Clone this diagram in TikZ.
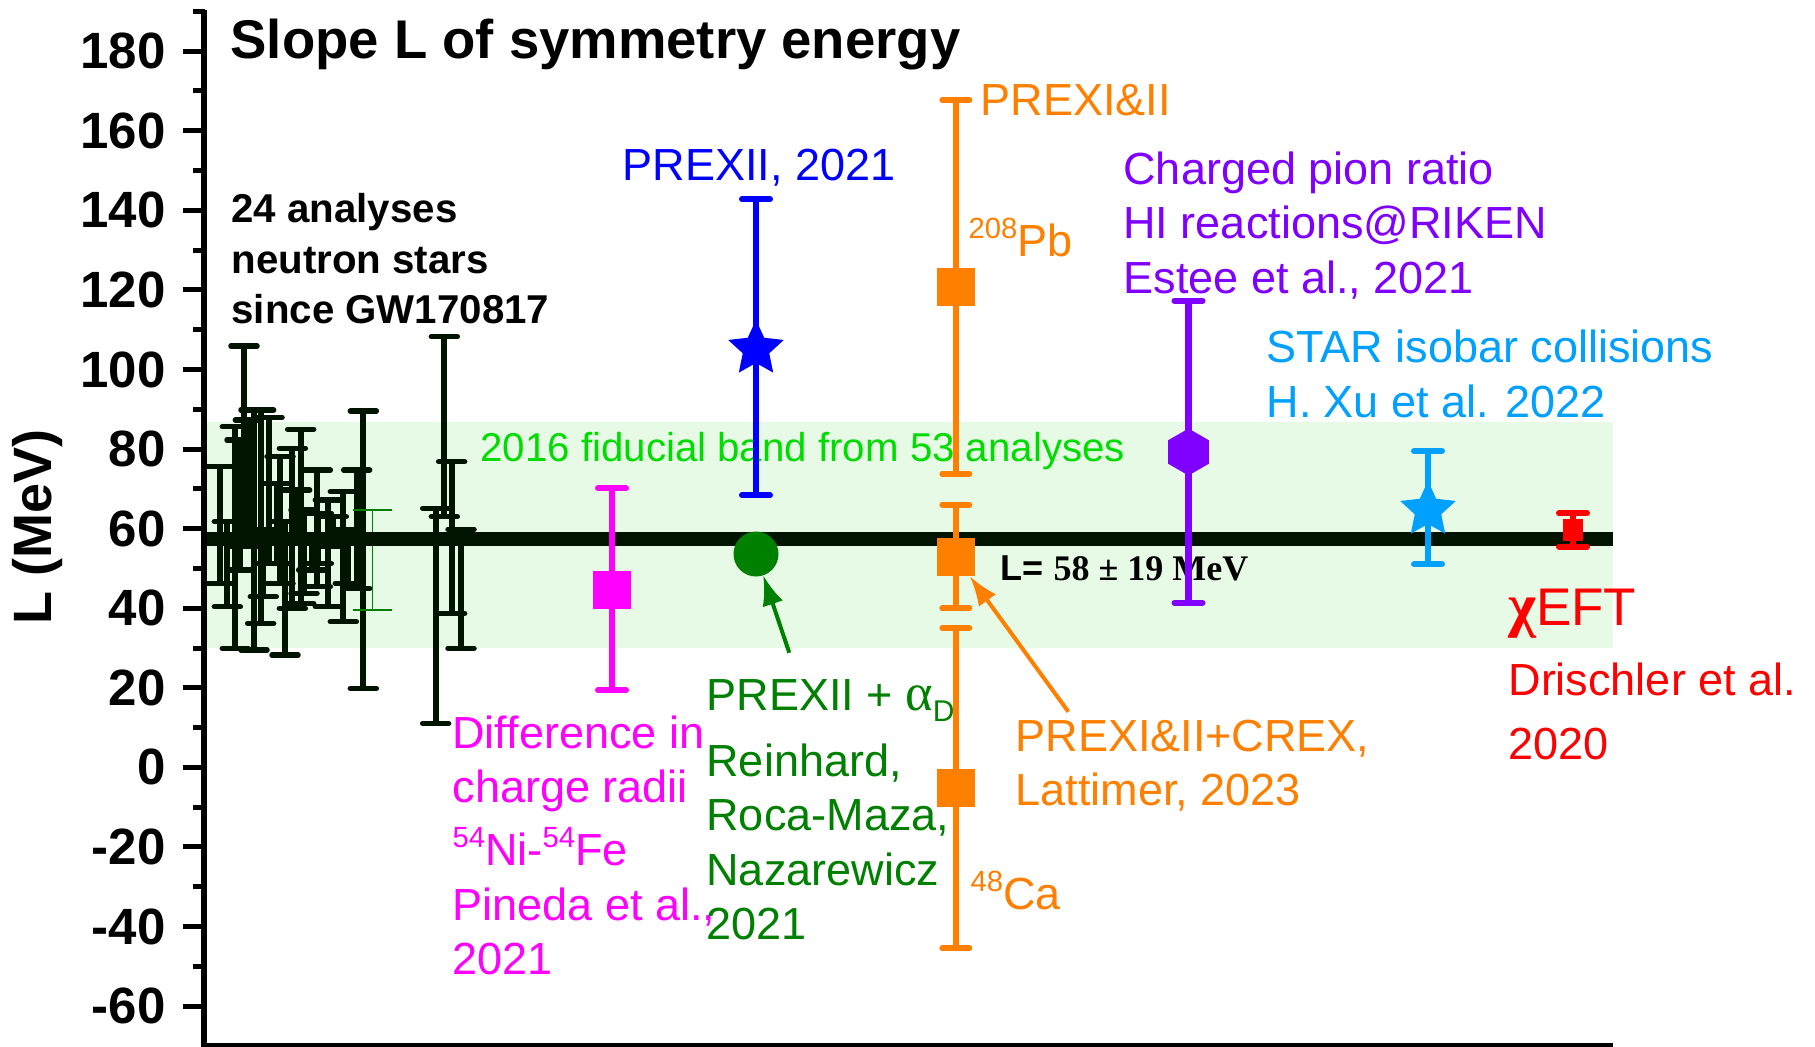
\documentclass[tikz,border=0pt]{standalone}
\usepackage{fontspec}
\setmainfont{Liberation Sans}
\newfontfamily\sergr{Liberation Serif}
\usetikzlibrary{shapes.geometric,arrows.meta}
\definecolor{band}{RGB}{230,250,230}
\definecolor{dk}{RGB}{0,20,0}
\definecolor{cblue}{RGB}{0,0,255}
\definecolor{corange}{RGB}{255,128,0}
\definecolor{cpurple}{RGB}{128,0,255}
\definecolor{ccyan}{RGB}{0,160,255}
\definecolor{cmag}{RGB}{255,0,255}
\definecolor{cgreen}{RGB}{0,128,0}
\definecolor{cfid}{RGB}{0,220,0}
\definecolor{cred}{RGB}{255,0,0}
\newcommand\Ly[1]{767.4-3.979*(#1)}
\newcommand\myebar[5]{% color, x, lo, hi, halfcap
  \draw[#1, line width=2.5pt] (#2,{\Ly{#3}}) -- (#2,{\Ly{#4}});
  \draw[#1, line width=2.4pt, line cap=round] ({#2-#5},{\Ly{#3}}) -- ({#2+#5},{\Ly{#3}}) ({#2-#5},{\Ly{#4}}) -- ({#2+#5},{\Ly{#4}});
}
\newcommand\sups[1]{\raisebox{6.9pt}{\fontsize{11.7pt}{12pt}\selectfont #1}}
\begin{document}
\begin{tikzpicture}[x=0.4pt,y=-0.4pt,
  lab/.style={anchor=base west, inner sep=0pt, font=\fontsize{18pt}{22pt}\selectfont},
  blab/.style={anchor=base west, inner sep=0pt, font=\fontsize{16.1pt}{20pt}\selectfont\bfseries},
  ticklab/.style={anchor=east, inner sep=0pt, font=\fontsize{20.4pt}{24pt}\selectfont\bfseries},
  mk/.style={inner sep=0pt, outer sep=0pt, draw=none}]
\useasboundingbox (0,0) rectangle (1815,1047);
\fill[white] (0,0) rectangle (1815,1047);
% fiducial band
\fill[band] (204,{\Ly{86.7}}) rectangle (1613,{\Ly{30}});
\node[lab, text=cfid, font=\fontsize{16.1pt}{20pt}\selectfont] (fid) at (480,461) {2016 fiducial band from 53 analyses};
% neutron star cluster
\foreach \a/\b/\c in {120/410/760, 142/575/830, 166/290/955, 192/48/650, 222/240/960, 242/240/880, 267/262/700, 290/460/700, 315/575/975, 337/355/835, 362/298/820, 372/540/790, 412/420/770, 415/550/700, 490/485/875, 530/420/775, 550/243/1075, 460/560/650, 767/535/1180, 793/20/560, 815/395/850, 843/598/955, 250/600/800, 395/620/720, 180/330/720, 205/270/620, 300/380/760, 350/480/640, 445/510/830, 505/600/760}{
  \draw[dk, line width=2.3pt] ({180+\a/3},{330+\b/3}) -- ({180+\a/3},{330+\c/3});
  \draw[dk, line width=2.2pt, line cap=round] ({180+\a/3-13},{330+\b/3}) -- ++(26,0) ({180+\a/3-13},{330+\c/3}) -- ++(26,0);
}
\draw[cgreen, line width=0.6pt] (372.3,510) -- (372.3,610) (353.3,510) -- (391.7,510) (353.3,610) -- (391.7,610);
% central line
\draw[dk, line width=5.6pt] (204,539) -- (1613,539);
% axes
\draw[black, line width=2.6pt] (204,10) -- (204,1047);
\draw[black, line width=2pt] (201,1045) -- (1613,1045);
\foreach \v in {-60,-40,...,180}{
  \draw[black, line width=2pt] (183,{\Ly{\v}}) -- (205,{\Ly{\v}});
  \node[ticklab] (tl\v) at (166,{\Ly{\v}}) {\v};
}
\foreach \v in {-50,-30,...,190}{
  \draw[black, line width=2pt] (193,{\Ly{\v}}) -- (205,{\Ly{\v}});
}
\node[rotate=90, inner sep=0pt, font=\fontsize{21.6pt}{24pt}\selectfont\bfseries] (ylab) at (38,527) {L (MeV)};
% title and black annotation
\node[anchor=base west, inner sep=0pt, font=\fontsize{21.8pt}{26pt}\selectfont\bfseries] (title) at (230,58) {Slope L of symmetry energy};
\node[blab] (ns1) at (231,222) {24 analyses};
\node[blab] (ns2) at (231,273) {neutron stars};
\node[blab] (ns3) at (231,323) {since GW170817};
% L = 58 label
\node[anchor=base west, inner sep=0pt, font=\fontsize{14.4pt}{18pt}\selectfont] (lval) at (1000,580) {\textbf{L=} {\sergr\bfseries 58 ± 19 MeV}};
% magenta
\myebar{cmag}{612}{19.4}{70.1}{14}
\node[mk, rectangle, fill=cmag, minimum size=15.4pt] (mag) at (612,590) {};
\node[lab, text=cmag] (m1) at (452,748) {Difference in};
\node[lab, text=cmag] (m2) at (452,802) {charge radii};
\node[lab, text=cmag] (m3) at (452,865) {\sups{54}Ni-\sups{54}Fe};
\node[lab, text=cmag] (m4) at (452,920) {Pineda et al.,};
\node[lab, text=cmag] (m5) at (452,974) {2021};
% blue
\myebar{cblue}{756}{68.4}{142.8}{14}
\node[mk, star, star points=5, star point ratio=2.1, fill=cblue, minimum size=23.4pt] (bstar) at (756,349) {};
\node[lab, text=cblue] (b1) at (622,180) {PREXII, 2021};
% green
\node[mk, circle, fill=cgreen, minimum size=18pt] (gc) at (756,554) {};
\coordinate (ga) at (789.3,652.8);
\draw[cgreen, line width=1.6pt, -{Latex[length=12pt,width=8.5pt]}] (ga) -- (gc);
\node[lab, text=cgreen] (g1) at (706,710) {PREXII + {\sergr\fontsize{21pt}{22pt}\selectfont α}\raisebox{-4.5pt}{\fontsize{12pt}{12pt}\selectfont D}};
\node[lab, text=cgreen] (g2) at (706,776) {Reinhard,};
\node[lab, text=cgreen] (g3) at (706,830) {Roca-Maza,};
\node[lab, text=cgreen] (g4) at (706,885) {Nazarewicz};
\node[lab, text=cgreen] (g5) at (706,939) {2021};
% orange
\myebar{corange}{955.8}{73.8}{167.8}{13.5}
\myebar{corange}{955.8}{40}{66}{13.5}
\myebar{corange}{955.8}{-45.5}{35}{13.5}
\node[mk, rectangle, fill=corange, minimum size=15.3pt] (sq1) at (955.8,286.7) {};
\node[mk, rectangle, fill=corange, minimum size=15.3pt] (sq2) at (955.8,557) {};
\node[mk, rectangle, fill=corange, minimum size=15.3pt] (sq3) at (955.8,788.3) {};
\coordinate (oa) at (1068.3,711.7);
\draw[corange, line width=1.6pt, -{Latex[length=12pt,width=8.5pt]}] (oa) -- (sq2);
\node[lab, text=corange] (o1) at (980,115) {PREXI\&II};
\node[lab, text=corange] (o2) at (968,256) {\sups{208}Pb};
\node[lab, text=corange] (o3) at (970,909) {\sups{48}Ca};
\node[lab, text=corange] (o4) at (1015,751) {PREXI\&II+CREX,};
\node[lab, text=corange] (o5) at (1015,805) {Lattimer, 2023};
% purple
\myebar{cpurple}{1188.5}{41.4}{117.3}{14}
\node[mk, regular polygon, regular polygon sides=6, shape border rotate=30, fill=cpurple, minimum size=18.8pt] (hex) at (1188.5,452) {};
\node[lab, text=cpurple] (p1) at (1123,184) {Charged pion ratio};
\node[lab, text=cpurple] (p2) at (1123,238) {HI reactions@RIKEN};
\node[lab, text=cpurple] (p3) at (1123,293) {Estee et al., 2021};
% cyan
\myebar{ccyan}{1428}{51}{79.5}{14}
\node[mk, star, star points=5, star point ratio=2.1, fill=ccyan, minimum size=23.4pt] (cstar) at (1428,510) {};
\node[lab, text=ccyan] (c1) at (1266,362) {STAR isobar collisions};
\node[lab, text=ccyan] (c2) at (1266,417) {H. Xu et al. 2022};
% red
\myebar{cred}{1573}{55.5}{63.9}{14}
\node[mk, rectangle, fill=cred, minimum width=8pt, minimum height=9pt] (rsq) at (1573,530) {};
\node[anchor=base west, inner sep=0pt, text=cred, font=\fontsize{21.2pt}{24pt}\selectfont] (r1) at (1508,625) {{\sergr\bfseries\fontsize{24pt}{24pt}\selectfont χ}EFT};
\node[lab, text=cred] (r2) at (1508,695) {Drischler et al.};
\node[lab, text=cred] (r3) at (1508,759) {2020};
\end{tikzpicture}
\end{document}
